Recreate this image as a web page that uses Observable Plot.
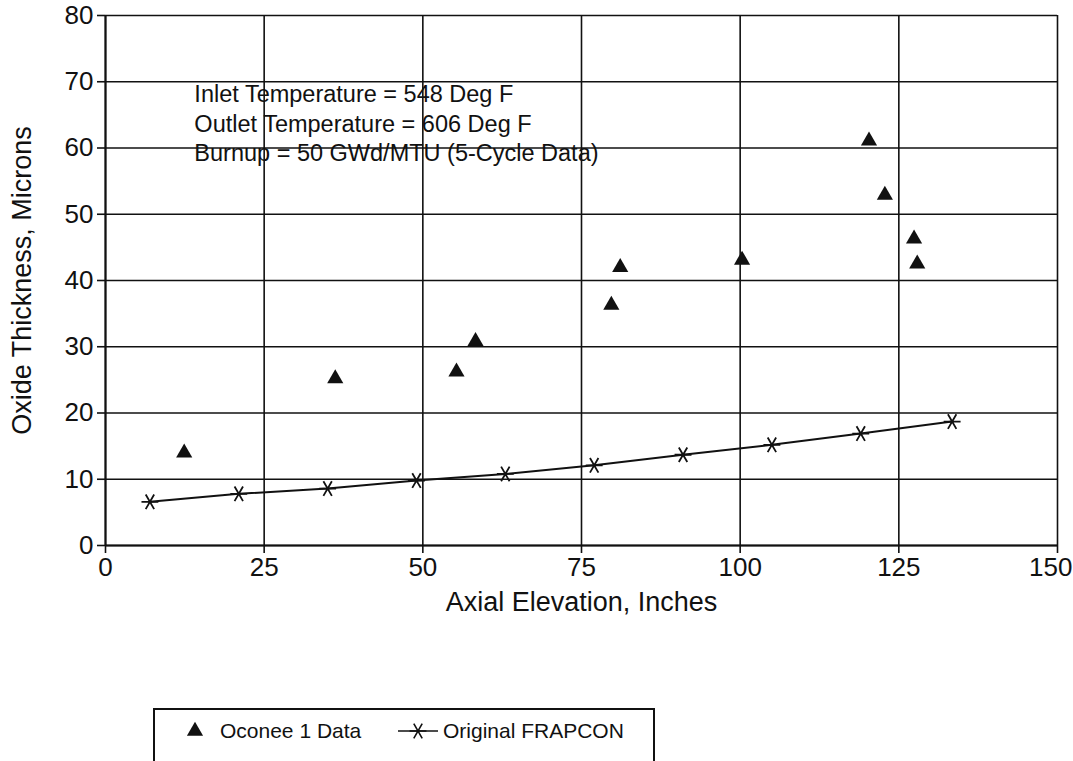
<!DOCTYPE html>
<html>
<head>
<meta charset="utf-8">
<script src="https://cdn.jsdelivr.net/npm/d3@7"></script>
<script src="https://cdn.jsdelivr.net/npm/@observablehq/plot@0.6"></script>
<style>
  html, body { margin: 0; padding: 0; background: #fff; }
  body { width: 1073px; height: 761px; position: relative; overflow: hidden; font-family: "Liberation Sans", Arial, sans-serif; }
  #legend {
    position: absolute; left: 153px; top: 708px; width: 502px; height: 70px;
    border: 2px solid #111; box-sizing: border-box; background: #fff;
  }
  #legend .item { position: absolute; top: 6px; display: flex; align-items: center; font-size: 21px; color: #111; }
  #legend svg { display: block; }
</style>
</head>
<body>
<div id="chart"></div>
<div id="legend"></div>
<script>
// Oconee 1 measured oxide thickness (axial elevation in inches, thickness in microns)
const dataElevation = [12.4, 36.2, 55.3, 58.3, 79.7, 81.1, 100.3, 120.3, 122.8, 127.4, 127.9];
const dataOxide     = [14.0, 25.2, 26.2, 30.8, 36.3, 42.0, 43.1, 61.1, 52.9, 46.3, 42.5];

// Original FRAPCON prediction
const frapElevation = [7, 21, 35, 49, 63, 77, 91, 105, 119, 133.4];
const frapOxide     = [6.6, 7.8, 8.6, 9.8, 10.8, 12.1, 13.7, 15.2, 16.9, 18.7];

const xTicks = [0, 25, 50, 75, 100, 125, 150];
const yTicks = [0, 10, 20, 30, 40, 50, 60, 70, 80];

const xTitle = "Axial Elevation, Inches";
const yTitle = "Oxide Thickness, Microns";
const seriesNames = ["Oconee 1 Data", "Original FRAPCON"];
const noteLines = [
  "Inlet Temperature = 548 Deg F",
  "Outlet Temperature = 606 Deg F",
  "Burnup = 50 GWd/MTU (5-Cycle Data)"
];

const measured = dataElevation.map((x, i) => ({x, y: dataOxide[i]}));
const predicted = frapElevation.map((x, i) => ({x, y: frapOxide[i]}));

const ink = "#111";

const chart = Plot.plot({
  width: 1073,
  height: 640,
  marginLeft: 105,
  marginRight: 16,
  marginTop: 15,
  marginBottom: 95,
  style: {fontFamily: "'Liberation Sans', Arial, sans-serif", color: ink, background: "transparent"},
  x: {domain: [0, 150]},
  y: {domain: [0, 80]},
  marks: [
    Plot.gridX(xTicks, {stroke: ink, strokeOpacity: 1, strokeWidth: 1.6}),
    Plot.gridY(yTicks, {stroke: ink, strokeOpacity: 1, strokeWidth: 1.6}),
    Plot.ruleX([0], {stroke: ink, strokeWidth: 2}),
    Plot.ruleY([0], {stroke: ink, strokeWidth: 2.2}),
    Plot.axisX({
      ticks: xTicks, tickSize: 8, tickPadding: 4, fontSize: 26,
      stroke: ink, strokeWidth: 1.6, label: null
    }),
    Plot.axisY({
      ticks: yTicks, tickSize: 8, tickPadding: 4, fontSize: 26,
      stroke: ink, strokeWidth: 1.6, label: null
    }),
    // axis titles
    Plot.text([xTitle], {
      frameAnchor: "bottom", text: d => d, textAnchor: "middle", lineAnchor: "middle",
      dy: 57, fontSize: 27, fill: ink
    }),
    Plot.text([yTitle], {
      frameAnchor: "left", text: d => d, textAnchor: "middle", lineAnchor: "middle",
      rotate: -90, dx: -83, fontSize: 27, fill: ink
    }),
    // operating conditions note
    Plot.text([noteLines.join("\n")], {
      x: 14, y: 70, text: d => d, textAnchor: "start", lineAnchor: "top",
      lineHeight: 1.24, fontSize: 23.5, fill: ink
    }),
    Plot.line(predicted, {x: "x", y: "y", stroke: ink, strokeWidth: 2}),
    Plot.dot(predicted, {x: "x", y: "y", symbol: "asterisk", r: 8, stroke: ink, strokeWidth: 1.8, rotate: 90}),
    Plot.dot(measured, {x: "x", y: "y", symbol: "triangle", r: 6, fill: ink, stroke: "none"})
  ]
});

// keep the right-most tick label inside the page
const xTickLabels = chart.querySelectorAll("g[aria-label='x-axis tick label'] text");
if (xTickLabels.length) {
  const last = xTickLabels[xTickLabels.length - 1];
  last.setAttribute("text-anchor", "end");
  last.setAttribute("dx", 15);
}

document.getElementById("chart").appendChild(chart);

// Legend below the plot
const legend = d3.select("#legend");
const tri = d3.symbol(d3.symbolTriangle, Math.PI * 36)();
const ast = d3.symbol(d3.symbolAsterisk, Math.PI * 64)();

const item1 = legend.append("div").attr("class", "item").style("left", "20px");
const s1 = item1.append("svg").attr("width", 40).attr("height", 30);
s1.append("path").attr("d", tri).attr("transform", "translate(20,15)").attr("fill", ink);
item1.append("span").style("margin-left", "5px").text(seriesNames[0]);

const item2 = legend.append("div").attr("class", "item").style("left", "240px");
const s2 = item2.append("svg").attr("width", 46).attr("height", 30);
s2.append("line").attr("x1", 3).attr("x2", 43).attr("y1", 15).attr("y2", 15).attr("stroke", ink).attr("stroke-width", 1.6);
s2.append("path").attr("d", ast).attr("transform", "translate(23,15) rotate(90)").attr("fill", "none").attr("stroke", ink).attr("stroke-width", 1.6);
item2.append("span").style("margin-left", "2px").text(seriesNames[1]);
</script>
</body>
</html>
